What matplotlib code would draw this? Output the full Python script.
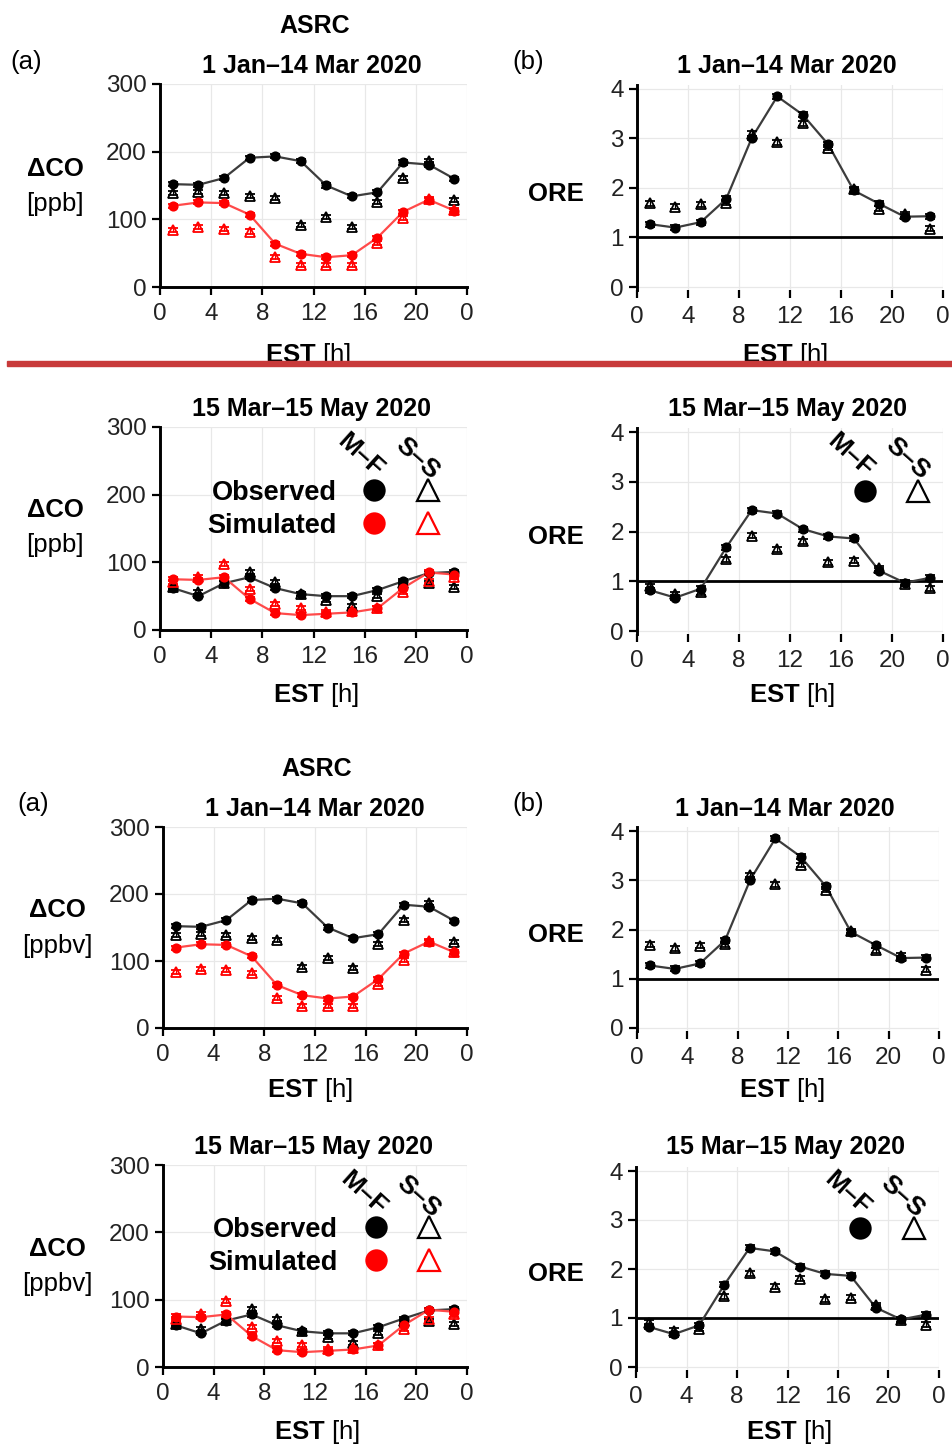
import matplotlib
matplotlib.use("Agg")
import matplotlib.pyplot as plt
from matplotlib.lines import Line2D
from matplotlib.patches import Rectangle

plt.rcParams['font.family'] = ['Liberation Sans', 'DejaVu Sans']
plt.rcParams['mathtext.fontset'] = 'custom'
plt.rcParams['mathtext.rm'] = 'Liberation Sans'
plt.rcParams['mathtext.bf'] = 'Liberation Sans:bold'

W, H = 952, 1444

# ---- data -------------------------------------------------------------
hours = [1, 3, 5, 7, 9, 11, 13, 15, 17, 19, 21, 23]
xticks = [0, 4, 8, 12, 16, 20, 24]
xticklabels = ['0', '4', '8', '12', '16', '20', '0']

# Delta CO, 1 Jan - 14 Mar 2020 [ppb]
obs_mf_jan = [152, 151, 161, 191, 193, 186, 150, 134, 140, 184, 181, 160]
obs_ss_jan = [139, 140, 139, 135, 131, 91, 104, 89, 126, 161, 186, 129]
sim_mf_jan = [120, 125, 124, 107, 64, 49, 44, 47, 73, 111, 129, 113]
sim_ss_jan = [84, 88, 86, 82, 45, 33, 33, 33, 65, 102, 130, 114]

# Delta CO, 15 Mar - 15 May 2020 [ppb]
obs_mf_mar = [62, 50, 69, 78, 62, 53, 50, 50, 59, 72, 84, 86]
obs_ss_mar = [64, 56, 70, 86, 71, 53, 45, 36, 50, 69, 69, 64]
sim_mf_mar = [75, 74, 78, 46, 25, 22, 24, 26, 32, 62, 85, 82]
sim_ss_mar = [71, 79, 98, 60, 39, 33, 26, 28, 32, 56, 72, 78]

# ORE
ore_mf_jan = [1.27, 1.20, 1.31, 1.78, 3.01, 3.85, 3.48, 2.88, 1.95, 1.68, 1.42, 1.43]
ore_ss_jan = [1.69, 1.62, 1.67, 1.70, 3.10, 2.92, 3.31, 2.81, 1.97, 1.58, 1.47, 1.18]
ore_mf_mar = [0.82, 0.67, 0.85, 1.68, 2.43, 2.36, 2.05, 1.90, 1.86, 1.21, 0.97, 1.07]
ore_ss_mar = [0.90, 0.74, 0.78, 1.44, 1.91, 1.64, 1.80, 1.38, 1.41, 1.26, 0.95, 0.86]

co_err = 3.0
ore_err = 0.05

BLACK_LINE = '#3c3c3c'
RED = '#ff0000'
RED_LINE = '#ff4a4a'
GRID = '#e8e8e8'
TICKC = '#222222'

fig = plt.figure(figsize=(W / 100, H / 100), dpi=100)


def place(xa, xb, ya, yb, va, vb, ylim):
    """axes whose x=0..24 sits at xa..xb px and y=va at ya px, y=vb at yb px"""
    ppu = (ya - yb) / (vb - va)
    bot = ya + (va - ylim[0]) * ppu
    top = yb - (ylim[1] - vb) * ppu
    ax = fig.add_axes([xa / W, 1 - bot / H, (xb - xa) / W, (bot - top) / H])
    ax.set_xlim(0, 24)
    ax.set_ylim(*ylim)
    ax.set_xticks(xticks)
    ax.set_xticklabels(xticklabels)
    ax.grid(True, color=GRID, lw=0.9)
    ax.set_axisbelow(True)
    for s in ['top', 'right']:
        ax.spines[s].set_visible(False)
    ax.spines['left'].set_linewidth(2.1)
    ax.spines['bottom'].set_linewidth(2.1)
    ax.tick_params(labelsize=17.5, width=1.6, length=5.5, pad=4,
                   labelcolor=TICKC, color='black')
    ax.tick_params(axis='x', pad=6)
    return ax


def series(ax, y, err, color, line_color, marker, filled, line=True):
    if line:
        ax.plot(hours, y, color=line_color, lw=1.6, zorder=3)
    ax.errorbar(hours, y, yerr=err, fmt=marker, ms=6 if filled else 7.5,
                mfc=color if filled else 'none', mec=color, mew=1.3,
                ecolor=color, elinewidth=0.9, capsize=3.5, capthick=0.9,
                zorder=4)


def co_panel(ax, obs_mf, obs_ss, sim_mf, sim_ss):
    ax.set_yticks([0, 100, 200, 300])
    series(ax, obs_mf, co_err, 'black', BLACK_LINE, 'o', True)
    series(ax, obs_ss, co_err, 'black', BLACK_LINE, '^', False, line=False)
    series(ax, sim_mf, co_err, RED, RED_LINE, 'o', True)
    series(ax, sim_ss, co_err, RED, RED_LINE, '^', False, line=False)


def ore_panel(ax, mf, ss):
    ax.set_yticks([0, 1, 2, 3, 4])
    ax.spines['bottom'].set_visible(False)
    ax.axhline(1, color='black', lw=2.0, zorder=2)
    series(ax, mf, ore_err, 'black', BLACK_LINE, 'o', True)
    series(ax, ss, ore_err, 'black', BLACK_LINE, '^', False, line=False)


def ftext(x, y, s, size, weight='normal', ha='center'):
    # (x, y) = pixel position of the middle of the capitals
    base = y + 0.36 * size * 100 / 72
    fig.text(x / W, 1 - base / H, s, fontsize=size, fontweight=weight,
             ha=ha, va='baseline', color='black')


def rtext(x, y, s, size=19):
    fig.text(x / W, 1 - y / H, s, fontsize=size, fontweight='bold',
             ha='center', va='center', rotation=-42, rotation_mode='anchor')


def fmark(x, y, marker, color, filled):
    fig.add_artist(Line2D([x / W], [1 - y / H], transform=fig.transFigure,
                          marker=marker, ls='none',
                          ms=14.5 if filled else 15.5,
                          mfc=color if filled else 'none', mec=color,
                          mew=1.6))


# ---- panels -----------------------------------------------------------
# top copy
a1 = place(160, 467, 287, 84, 0, 300, (0, 300))
co_panel(a1, obs_mf_jan, obs_ss_jan, sim_mf_jan, sim_ss_jan)
b1 = place(637, 943, 287, 89, 0, 4, (-0.07, 4.08))
ore_panel(b1, ore_mf_jan, ore_ss_jan)
a2 = place(160, 467, 630, 427, 0, 300, (0, 300))
co_panel(a2, obs_mf_mar, obs_ss_mar, sim_mf_mar, sim_ss_mar)
b2 = place(637, 943, 631, 432, 0, 4, (-0.07, 4.08))
ore_panel(b2, ore_mf_mar, ore_ss_mar)

# bottom copy
a3 = place(163, 467, 1028, 827, 0, 300, (0, 300))
co_panel(a3, obs_mf_jan, obs_ss_jan, sim_mf_jan, sim_ss_jan)
b3 = place(637, 939, 1028, 831, 0, 4, (-0.07, 4.08))
ore_panel(b3, ore_mf_jan, ore_ss_jan)
a4 = place(163, 467, 1367, 1165, 0, 300, (0, 300))
co_panel(a4, obs_mf_mar, obs_ss_mar, sim_mf_mar, sim_ss_mar)
b4 = place(636, 939, 1367, 1171, 0, 4, (-0.07, 4.08))
ore_panel(b4, ore_mf_mar, ore_ss_mar)

# ---- texts ------------------------------------------------------------
est = r'$\mathbf{EST}$ [h]'
TS = 18      # titles
LS = 18.5    # labels

# top copy
ftext(315, 24, 'ASRC', TS, 'bold')
ftext(10, 60, '(a)', LS, ha='left')
ftext(512, 60, '(b)', LS, ha='left')
ftext(312, 64, '1 Jan–14 Mar 2020', TS, 'bold')
ftext(787, 64, '1 Jan–14 Mar 2020', TS, 'bold')
ftext(311, 407, '15 Mar–15 May 2020', TS, 'bold')
ftext(788, 407, '15 Mar–15 May 2020', TS, 'bold')
ftext(55, 167, 'ΔCO', LS, 'bold')
ftext(55, 202, '[ppb]', LS)
ftext(55, 508, 'ΔCO', LS, 'bold')
ftext(55, 543, '[ppb]', LS)
ftext(556, 192, 'ORE', LS, 'bold')
ftext(556, 535, 'ORE', LS, 'bold')
ftext(308, 353, est, LS)
ftext(785, 353, est, LS)
ftext(316, 693, est, LS)
ftext(792, 693, est, LS)

# bottom copy
ftext(317, 767, 'ASRC', TS, 'bold')
ftext(17, 802, '(a)', LS, ha='left')
ftext(512, 802, '(b)', LS, ha='left')
ftext(315, 807, '1 Jan–14 Mar 2020', TS, 'bold')
ftext(785, 807, '1 Jan–14 Mar 2020', TS, 'bold')
ftext(313, 1145, '15 Mar–15 May 2020', TS, 'bold')
ftext(785, 1145, '15 Mar–15 May 2020', TS, 'bold')
ftext(57, 908, 'ΔCO', LS, 'bold')
ftext(57, 944, '[ppbv]', LS)
ftext(57, 1247, 'ΔCO', LS, 'bold')
ftext(57, 1282, '[ppbv]', LS)
ftext(556, 933, 'ORE', LS, 'bold')
ftext(556, 1272, 'ORE', LS, 'bold')
ftext(310, 1088, est, LS)
ftext(782, 1088, est, LS)
ftext(317, 1430, est, LS)
ftext(789, 1430, est, LS)

# ---- legends ----------------------------------------------------------
for (mx, sx, hy, ox, oy, sy, cx, tx) in [(360, 417, 455, 337, 490, 523, 374, 428),
                                         (363, 418, 1193, 338, 1227, 1260, 376, 429)]:
    rtext(mx, hy, 'M–F')
    rtext(sx, hy + 3, 'S–S')
    ftext(ox, oy, 'Observed', 19.5, 'bold', ha='right')
    ftext(ox, sy, 'Simulated', 19.5, 'bold', ha='right')
    fmark(cx, oy, 'o', 'black', True)
    fmark(tx, oy, '^', 'black', False)
    fmark(cx, sy, 'o', RED, True)
    fmark(tx, sy, '^', RED, False)

for (mx, sx, hy, cx, tx, my) in [(850, 907, 455, 865, 918, 491),
                                 (847, 902, 1193, 860, 914, 1228)]:
    rtext(mx, hy, 'M–F')
    rtext(sx, hy + 3, 'S–S')
    fmark(cx, my, 'o', 'black', True)
    fmark(tx, my, '^', 'black', False)

# red separator between the two copies
fig.add_artist(Rectangle((0, 1 - 378 / H), 1, 12 / H, transform=fig.transFigure,
                         color='white', zorder=19))
fig.add_artist(Rectangle((7 / W, 1 - 366 / H), (W - 7) / W, 5 / H,
                         transform=fig.transFigure, color='#c83a3a', zorder=20))

fig.savefig('out.png', dpi=100)
